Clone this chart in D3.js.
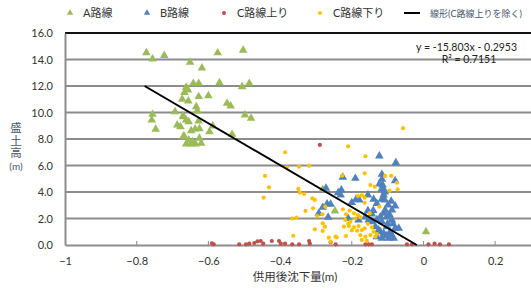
<!DOCTYPE html>
<html>
<head>
<meta charset="utf-8">
<script src="https://cdn.jsdelivr.net/npm/d3@7"></script>
<style>
  body { margin: 0; background: #fff; }
  text { font-family: "Lato", "Noto Sans CJK JP", sans-serif; }
</style>
</head>
<body>
<script>
// series: [沈下量, 盛土高]
var seriesA = [[-0.773,14.51],[-0.756,14.04],[-0.723,14.3],[-0.574,14.5],[-0.503,14.7],[-0.651,13.8],[-0.618,13.36],
  [-0.642,12.2],[-0.627,12.2],[-0.569,12.25],[-0.506,11.95],[-0.486,12.2],[-0.662,11.9],[-0.667,11.5],[-0.657,11.7],
  [-0.673,11.0],[-0.656,10.87],[-0.627,11.2],[-0.6,11.27],[-0.634,10.44],[-0.631,10.14],[-0.548,10.69],[-0.538,10.49],
  [-0.756,9.86],[-0.758,9.43],[-0.747,8.73],[-0.693,10.06],[-0.671,9.74],[-0.662,9.43],[-0.655,9.3],[-0.627,9.36],
  [-0.687,9.06],[-0.648,8.63],[-0.637,8.75],[-0.625,8.78],[-0.597,8.55],[-0.588,8.98],[-0.534,8.35],[-0.498,9.81],
  [-0.481,9.56],[-0.667,8.17],[-0.655,7.92],[-0.644,7.8],[-0.625,8.05],[-0.662,7.62],[-0.648,7.62],[-0.636,7.62],
  [-0.62,7.67],[-0.678,8.93],[-0.669,8.23],[-0.669,9.68],[-0.281,4.2],[-0.247,2.57],[0.007,1.0]];

var seriesB = [[-0.123,6.72],[-0.077,6.21],[-0.225,5.11],[-0.19,5.03],[-0.116,5.33],[-0.116,4.96],[-0.114,4.53],
  [-0.111,4.2],[-0.111,3.77],[-0.116,3.45],[-0.108,3.4],[-0.229,4.15],[-0.238,3.95],[-0.231,3.77],[-0.188,3.45],
  [-0.179,3.4],[-0.155,3.77],[-0.139,3.45],[-0.13,3.14],[-0.144,2.34],[-0.155,2.59],[-0.107,2.64],[-0.088,2.64],
  [-0.079,2.94],[-0.099,3.02],[-0.12,2.14],[-0.102,2.14],[-0.088,1.89],[-0.116,1.76],[-0.102,1.38],[-0.079,1.26],
  [-0.069,1.26],[-0.093,1.0],[-0.111,0.88],[-0.125,1.13],[-0.134,1.38],[-0.144,1.76],[-0.097,0.5],[-0.083,0.5],
  [-0.116,0.5],[-0.13,0.63],[-0.153,1.89],[-0.162,2.14],[-0.181,1.89],[-0.272,4.28],[-0.269,3.09],[-0.259,3.07],
  [-0.292,2.39],[-0.266,2.09],[-0.281,2.84],[-0.079,4.85],[-0.116,4.25],[-0.108,4.0],[-0.104,0.7],[-0.09,0.75],
  [-0.12,1.0],[-0.095,2.3],[-0.14,2.6],[-0.2,3.2],[-0.21,2.0],[-0.1,1.6],[-0.085,1.6],[-0.11,2.4],[-0.13,1.9],
  [-0.09,3.3],[-0.123,4.6]];

var seriesCup = [[-0.59,0.13],[-0.585,0.05],[-0.514,0.05],[-0.495,0.05],[-0.486,0.1],[-0.472,0.15],[-0.463,0.28],
  [-0.454,0.3],[-0.447,0.1],[-0.423,0.3],[-0.403,0.3],[-0.398,0.1],[-0.386,0.1],[-0.366,0.05],[-0.347,0.05],
  [-0.319,0.3],[-0.317,0.1],[-0.259,0.2],[-0.245,0.05],[-0.162,0.05],[-0.144,0.05],[-0.046,0.05],[-0.032,0.05],
  [0.014,0.05],[0.031,0.1],[0.046,0.05],[0.071,0.05],[-0.153,0.05],[-0.289,7.55]];

var seriesCdown = [[-0.386,7.0],[-0.21,7.45],[-0.057,8.82],[-0.162,6.7],[-0.381,5.86],[-0.347,5.91],[-0.319,5.99],
  [-0.442,5.21],[-0.431,4.35],[-0.446,3.57],[-0.349,4.23],[-0.345,3.95],[-0.333,3.85],[-0.31,3.52],[-0.303,3.4],
  [-0.308,2.77],[-0.329,2.57],[-0.366,2.0],[-0.354,2.06],[-0.282,2.32],[-0.296,2.19],[-0.281,1.64],[-0.275,1.38],
  [-0.303,1.18],[-0.281,1.06],[-0.264,0.55],[-0.242,0.58],[-0.363,0.7],[-0.274,2.89],[-0.227,5.23],[-0.164,5.41],
  [-0.148,4.53],[-0.136,4.4],[-0.107,5.21],[-0.09,5.21],[-0.074,4.7],[-0.072,4.2],[-0.095,4.1],[-0.183,3.7],
  [-0.172,3.75],[-0.164,3.57],[-0.164,3.19],[-0.123,2.89],[-0.206,2.59],[-0.194,2.39],[-0.216,2.32],[-0.183,2.26],
  [-0.176,2.09],[-0.218,1.89],[-0.204,1.76],[-0.222,1.38],[-0.208,1.43],[-0.194,1.34],[-0.181,1.43],[-0.185,1.08],
  [-0.172,1.13],[-0.164,1.26],[-0.144,1.34],[-0.139,1.0],[-0.148,0.75],[-0.162,0.63],[-0.176,0.75],[-0.172,0.38],
  [-0.158,0.33],[-0.134,0.63],[-0.13,0.83],[-0.245,0.63],[-0.259,0.25],[-0.216,0.68],[-0.21,1.6],[-0.19,2.0],
  [-0.2,1.1],[-0.155,1.6],[-0.225,2.7],[-0.15,2.4]];

// linear trend (C路線上りを除く)
var trendSlope = -15.803, trendIntercept = -0.2953;
var trendRange = [-0.778, -0.0187];
var trendLabels = ["y = -15.803x - 0.2953", "R² = 0.7151"];

var xTicks = [-1, -0.8, -0.6, -0.4, -0.2, 0, 0.2];
var yTicks = [0, 2, 4, 6, 8, 10, 12, 14, 16];
var legendNames = ["A路線", "B路線", "C路線上り", "C路線下り", "線形(C路線上りを除く)"];
var yTitle = ["盛", "土", "高", "(m)"];

window.onload = function(){
    var width = 531, height = 289;
    var left = 65, right = 531, top = 33, bottom = 245;

    var svg = d3.select("body").append("svg")
        .attr("width", width)
        .attr("height", height);

    var x = d3.scaleLinear().domain([-1, 0.3]).range([left, right]);
    var y = d3.scaleLinear().domain([0, 16]).range([bottom, top]);

    //gridlines
    svg.selectAll(".grid")
        .data(yTicks.filter(function(d){ return d > 0 && d < 16; }))
        .enter().append("line")
        .attr("class", "grid")
        .attr("x1", left).attr("x2", right)
        .attr("y1", function(d){ return y(d); })
        .attr("y2", function(d){ return y(d); })
        .attr("stroke", "#8c8c8c")
        .attr("stroke-width", 2);

    //top border
    svg.append("line")
        .attr("x1", left).attr("x2", right)
        .attr("y1", y(16)).attr("y2", y(16))
        .attr("stroke", "#111").attr("stroke-width", 2);

    //axes
    var xAxis = svg.append("g")
        .attr("transform", "translate(0," + bottom + ")")
        .call(d3.axisBottom(x).tickValues(xTicks).tickSize(0).tickPadding(12)
            .tickFormat(function(d){ return d3.format("")(+d.toFixed(1)); }));
    xAxis.select(".domain").attr("stroke", "#8c8c8c").attr("stroke-width", 2);
    xAxis.selectAll("text").attr("font-size", 11).attr("fill", "#333");

    //small inside ticks
    svg.selectAll(".xt")
        .data(xTicks.slice(1))
        .enter().append("line")
        .attr("class", "xt")
        .attr("x1", function(d){ return x(d); })
        .attr("x2", function(d){ return x(d); })
        .attr("y1", bottom).attr("y2", bottom - 4)
        .attr("stroke", "#8c8c8c").attr("stroke-width", 1);

    var yAxis = svg.append("g")
        .attr("transform", "translate(" + left + ",0)")
        .call(d3.axisLeft(y).tickValues(yTicks).tickSize(0).tickPadding(12)
            .tickFormat(d3.format(".1f")));
    yAxis.select(".domain").attr("stroke", "#8c8c8c").attr("stroke-width", 2);
    yAxis.selectAll("text").attr("font-size", 11).attr("fill", "#333");

    //axis titles
    svg.append("text")
        .attr("x", 295).attr("y", 281)
        .attr("text-anchor", "middle")
        .attr("font-size", 11.5)
        .attr("fill", "#333")
        .text("供用後沈下量(m)");

    //vertical stacked y title, one glyph per line
    svg.selectAll(".yt")
        .data(yTitle)
        .enter().append("text")
        .attr("class", "yt")
        .attr("x", 16)
        .attr("y", function(d, i){ return 132 + i * 12.5; })
        .attr("text-anchor", "middle")
        .attr("fill", "#44546A")
        .attr("font-size", function(d){ return d == "(m)" ? 10 : 11.5; })
        .text(function(d){ return d; });

    var tri = d3.symbol().type(d3.symbolTriangle).size(32);

    function triangles(data, color){
        svg.append("g").selectAll("path")
            .data(data)
            .enter().append("path")
            .attr("d", tri)
            .attr("transform", function(d){ return "translate(" + x(d[0]) + "," + y(d[1]) + ")"; })
            .attr("fill", color);
    }
    function dots(data, color){
        svg.append("g").selectAll("circle")
            .data(data)
            .enter().append("circle")
            .attr("cx", function(d){ return x(d[0]); })
            .attr("cy", function(d){ return y(d[1]); })
            .attr("r", 2.1)
            .attr("fill", color);
    }

    triangles(seriesA, "#9BBB59");
    triangles(seriesB, "#4F81BD");
    dots(seriesCup, "#C0504D");
    dots(seriesCdown, "#FFC000");

    //trend line
    svg.append("line")
        .attr("x1", x(trendRange[0]))
        .attr("y1", y(trendSlope * trendRange[0] + trendIntercept))
        .attr("x2", x(trendRange[1]))
        .attr("y2", y(trendSlope * trendRange[1] + trendIntercept))
        .attr("stroke", "#000")
        .attr("stroke-width", 2);

    svg.append("text")
        .attr("x", 517).attr("y", 51)
        .attr("text-anchor", "end")
        .attr("font-size", 10.5).attr("fill", "#222")
        .text(trendLabels[0]);
    svg.append("text")
        .attr("x", 469).attr("y", 63)
        .attr("text-anchor", "middle")
        .attr("font-size", 10.5).attr("fill", "#222")
        .text(trendLabels[1]);

    //legend
    var legX = [70, 147, 224, 320, 412];
    var leg = svg.selectAll(".leg")
        .data(legendNames)
        .enter().append("g")
        .attr("class", "leg")
        .attr("transform", function(d, i){ return "translate(" + legX[i] + ",13)"; });

    leg.each(function(d, i){
        var g = d3.select(this);
        if (i < 2) {
            g.append("path").attr("d", d3.symbol().type(d3.symbolTriangle).size(18))
                .attr("fill", i == 0 ? "#9BBB59" : "#4F81BD");
        } else if (i < 4) {
            g.append("circle").attr("r", 2).attr("fill", i == 2 ? "#C0504D" : "#FFC000");
        } else {
            g.append("line").attr("x1", -8).attr("x2", 8)
                .attr("stroke", "#000").attr("stroke-width", 2);
        }
        g.append("text")
            .attr("x", i < 4 ? 13 : 18)
            .attr("y", 4)
            .attr("font-size", i < 4 ? 11 : 9)
            .attr("fill", i < 4 ? "#333" : "#44546A")
            .text(d);
    });
};
</script>
</body>
</html>
